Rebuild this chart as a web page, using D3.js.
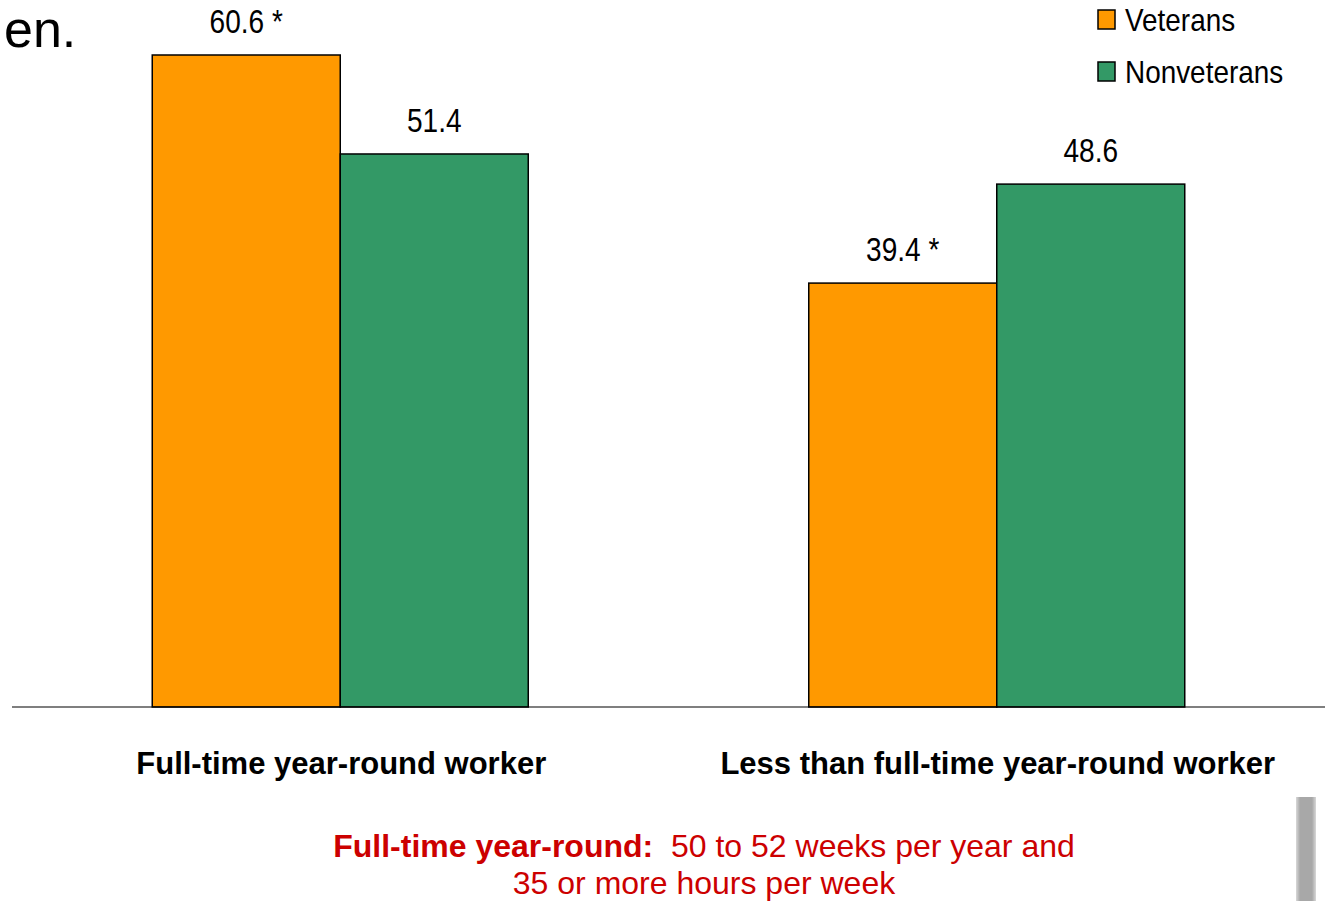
<!DOCTYPE html>
<html><head><meta charset="utf-8">
<script src="https://cdn.jsdelivr.net/npm/d3@7"></script>
<style>
body{margin:0;background:#fff;}
svg{display:block;}
text{font-family:"Liberation Sans",Arial,sans-serif;}
</style></head><body>
<svg id="c" width="1328" height="901"></svg>
<script>
const categories = ["Full-time year-round worker", "Less than full-time year-round worker"];
const series = ["Veterans", "Nonveterans"];
const veterans = [60.6, 39.4];
const nonveterans = [51.4, 48.6];
const valueLabels = [["60.6 *", "51.4"], ["39.4 *", "48.6"]];
const colors = ["#FF9900", "#339966"];

const svg = d3.select("#c");
const base = 707;

const x0 = d3.scaleBand().domain(categories).range([12, 1325]).padding(0);
const x1 = d3.scaleBand().domain(series).range([-188, 188]).padding(0);
const y = d3.scaleLinear().domain([0, 60.6]).range([base, 55]);

const rows = categories.map((c, i) => ({cat: c, vals: [veterans[i], nonveterans[i]], labels: valueLabels[i]}));

function narrowText(parent, x, yy, sx, size, txt, anchor) {
  return parent.append("text").attr("transform", `translate(${x},${yy}) scale(${sx},1)`)
    .attr("text-anchor", anchor || "start").attr("font-size", size).attr("fill", "#000").text(txt);
}

// title fragment
svg.append("text").attr("x", 4).attr("y", 47).attr("font-size", 52).attr("fill", "#000").text("en.");

const g = svg.append("g");
rows.forEach((r) => {
  const cx = x0(r.cat) + x0.bandwidth() / 2;
  series.forEach((s, j) => {
    const xl = cx + x1(s);
    g.append("rect").attr("x", xl).attr("y", y(r.vals[j])).attr("width", x1.bandwidth())
      .attr("height", y(0) - y(r.vals[j])).attr("fill", colors[j]).attr("stroke", "#000").attr("stroke-width", 1.5);
    narrowText(g, xl + x1.bandwidth() / 2, y(r.vals[j]) - 22, 0.85, 33, r.labels[j], "middle");
  });
});

// axis line
const xAxis = d3.axisBottom(x0).tickSize(0).tickFormat("");
const ax = svg.append("g").attr("transform", `translate(0,${base})`).call(xAxis);
ax.select(".domain").attr("stroke", "#000").attr("stroke-width", 1.2).attr("d", "M12,0H1325");

categories.forEach(c => {
  svg.append("text").attr("x", x0(c) + x0.bandwidth() / 2 + 1).attr("y", 774)
    .attr("text-anchor", "middle").attr("font-size", 31).attr("font-weight", "bold").attr("fill", "#000").text(c);
});

// legend
series.forEach((s, j) => {
  const ly = 10 + j * 52;
  svg.append("rect").attr("x", 1098).attr("y", ly).attr("width", 17).attr("height", 19)
    .attr("fill", colors[j]).attr("stroke", "#000").attr("stroke-width", 1.5);
  narrowText(svg, 1125, ly + 21, 0.9, 31, s, "start");
});

// footnote
const fn = svg.append("text").attr("x", 704).attr("y", 857).attr("text-anchor", "middle")
  .attr("font-size", 32).attr("fill", "#CC0000");
fn.append("tspan").attr("font-weight", "bold").text("Full-time year-round:");
fn.append("tspan").text("\u00a0 50 to 52 weeks per year and");
svg.append("text").attr("x", 704).attr("y", 894).attr("text-anchor", "middle")
  .attr("font-size", 32).attr("fill", "#CC0000").text("35 or more hours per week");

// gray scrollbar-like element
const grad = svg.append("defs").append("linearGradient").attr("id", "gg").attr("x1", "0").attr("x2", "1");
grad.append("stop").attr("offset", "0").attr("stop-color", "#d8d8d8");
grad.append("stop").attr("offset", "0.2").attr("stop-color", "#a8a8a8");
grad.append("stop").attr("offset", "0.8").attr("stop-color", "#a8a8a8");
grad.append("stop").attr("offset", "1").attr("stop-color", "#d8d8d8");
svg.append("rect").attr("x", 1296).attr("y", 797).attr("width", 20).attr("height", 104).attr("fill", "url(#gg)");
</script></body></html>
